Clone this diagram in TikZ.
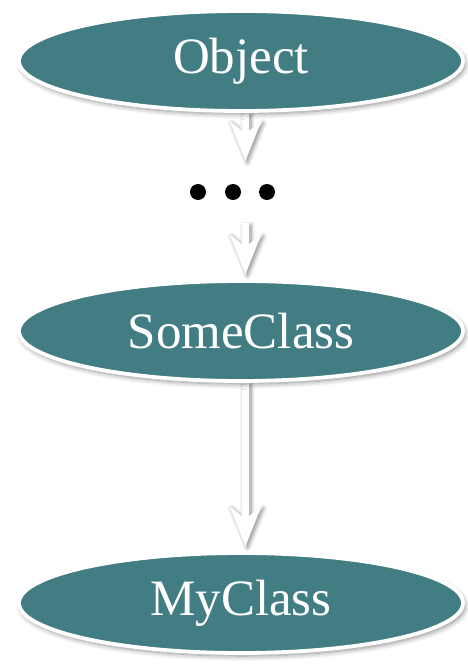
\documentclass[tikz,border=0pt]{standalone}
\usepackage{fontspec}
\setmainfont{Liberation Serif}
\usetikzlibrary{shapes.geometric,shadows.blur,calc,backgrounds}

\definecolor{teal}{HTML}{417D82}

\tikzset{
  classnode/.style={ellipse, fill=teal, draw=white, line width=3.8pt,
    minimum width=444pt, minimum height=100pt, inner sep=0pt,
    text=white, font=\fontsize{51}{55}\selectfont,
    blur shadow={shadow xshift=2pt, shadow yshift=-3pt,
      shadow blur steps=8, shadow blur radius=5pt, shadow opacity=45}},
  arrowbody/.style={fill=white,
    blur shadow={shadow xshift=2pt, shadow yshift=-2pt,
      shadow blur steps=6, shadow blur radius=4pt, shadow opacity=45}},
  dotmark/.style={fill=black}
}

% hollow white arrow from anchor #1 down to anchor #2, the tip held #3 above it
\newcommand\whitearrow[3]{%
  \path[arrowbody] let \p1=(#1), \p2=(#2) in
    (\x1+1pt,\y1) -- (\x1+1pt,\y2+#3+30pt) -- (\x1-11.5pt,\y2+#3+40pt)
    -- (\x1+4.5pt,\y2+#3) -- (\x1+20.5pt,\y2+#3+40pt) -- (\x1+8pt,\y2+#3+30pt)
    -- (\x1+8pt,\y1) -- cycle;%
}

\begin{document}
\begin{tikzpicture}[x=1pt,y=-1pt]
  \useasboundingbox (0,0) rectangle (467,664);

  \node[classnode] (obj) at (241,61) {Object};
  \node[classnode] (some) at (241,331) {SomeClass};
  \node[classnode] (mine) at (241,603) {MyClass};
  \node[minimum height=62pt, minimum width=90pt, inner sep=0pt] (dots) at (233,192) {};

  % the ellipsis between Object and SomeClass
  \fill[dotmark] ($(dots)+(-35,0)$) circle (8);
  \fill[dotmark] (dots) circle (8);
  \fill[dotmark] ($(dots)+(34,0)$) circle (8);

  % connectors, set beneath the ellipses
  \begin{scope}[on background layer]
    \whitearrow{obj.south}{obj.south |- dots.north}{0pt}
    \whitearrow{obj.south |- dots.south}{some.north}{5pt}
    \whitearrow{some.south}{mine.north}{5pt}
  \end{scope}
\end{tikzpicture}
\end{document}
